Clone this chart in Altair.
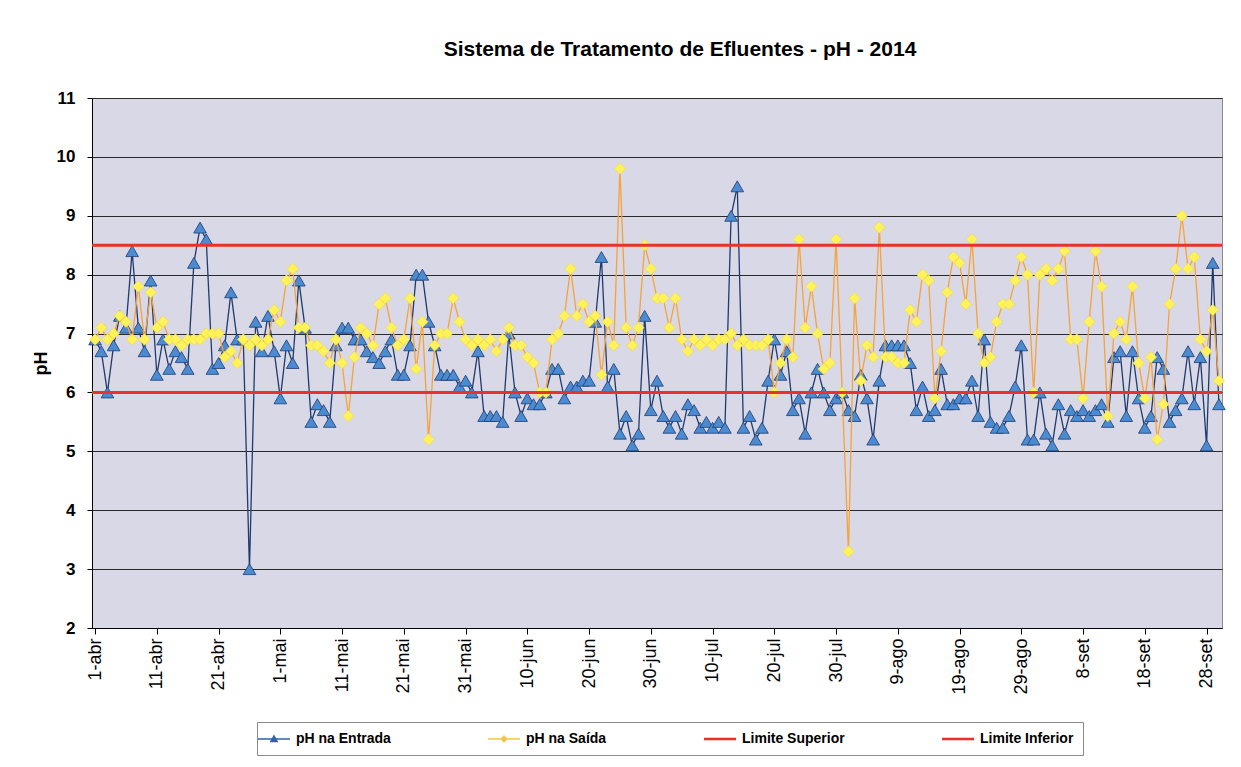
import altair as alt
import pandas as pd

# ---- data -------------------------------------------------------------
meses = ["abr", "mai", "jun", "jul", "ago", "set"]
dias_por_mes = [30, 31, 30, 31, 31, 30]
dias = [f"{d}-{m}" for m, n in zip(meses, dias_por_mes) for d in range(1, n + 1)]

entrada = [
    6.9, 6.7, 6.0, 6.8, 7.3, 7.1, 8.4, 7.1, 6.7, 7.9,
    6.3, 6.9, 6.4, 6.7, 6.6, 6.4, 8.2, 8.8, 8.6, 6.4,
    6.5, 6.8, 7.7, 6.9, 6.9, 3.0, 7.2, 6.7, 7.3, 6.7,
    5.9, 6.8, 6.5, 7.9, 7.1, 5.5, 5.8, 5.7, 5.5, 6.8,
    7.1, 7.1, 6.9, 6.9, 6.7, 6.6, 6.5, 6.7, 6.9, 6.3,
    6.3, 6.8, 8.0, 8.0, 7.2, 6.8, 6.3, 6.3, 6.3, 6.1,
    6.2, 6.0, 6.7, 5.6, 5.6, 5.6, 5.5, 7.0, 6.0, 5.6,
    5.9, 5.8, 5.8, 6.0, 6.4, 6.4, 5.9, 6.1, 6.1, 6.2,
    6.2, 7.2, 8.3, 6.1, 6.4, 5.3, 5.6, 5.1, 5.3, 7.3,
    5.7, 6.2, 5.6, 5.4, 5.6, 5.3, 5.8, 5.7, 5.4, 5.5,
    5.4, 5.5, 5.4, 9.0, 9.5, 5.4, 5.6, 5.2, 5.4, 6.2,
    6.9, 6.3, 6.7, 5.7, 5.9, 5.3, 6.0, 6.4, 6.0, 5.7,
    5.9, 6.0, 5.7, 5.6, 6.3, 5.9, 5.2, 6.2, 6.8, 6.8,
    6.8, 6.8, 6.5, 5.7, 6.1, 5.6, 5.7, 6.4, 5.8, 5.8,
    5.9, 5.9, 6.2, 5.6, 6.9, 5.5, 5.4, 5.4, 5.6, 6.1,
    6.8, 5.2, 5.2, 6.0, 5.3, 5.1, 5.8, 5.3, 5.7, 5.6,
    5.7, 5.6, 5.7, 5.8, 5.5, 6.6, 6.7, 5.6, 6.7, 5.9,
    5.4, 5.6, 6.6, 6.4, 5.5, 5.7, 5.9, 6.7, 5.8, 6.6,
    5.1, 8.2, 5.8,
]

saida = [
    6.9, 7.1, 6.9, 7.0, 7.3, 7.2, 6.9, 7.8, 6.9, 7.7,
    7.1, 7.2, 6.9, 6.9, 6.8, 6.9, 6.9, 6.9, 7.0, 7.0,
    7.0, 6.6, 6.7, 6.5, 6.9, 6.8, 6.9, 6.8, 6.9, 7.4,
    7.2, 7.9, 8.1, 7.1, 7.1, 6.8, 6.8, 6.7, 6.5, 6.9,
    6.5, 5.6, 6.6, 7.1, 7.0, 6.8, 7.5, 7.6, 7.1, 6.8,
    6.9, 7.6, 6.4, 7.2, 5.2, 6.8, 7.0, 7.0, 7.6, 7.2,
    6.9, 6.8, 6.9, 6.8, 6.9, 6.7, 6.9, 7.1, 6.8, 6.8,
    6.6, 6.5, 6.0, 6.0, 6.9, 7.0, 7.3, 8.1, 7.3, 7.5,
    7.2, 7.3, 6.3, 7.2, 6.8, 9.8, 7.1, 6.8, 7.1, 8.5,
    8.1, 7.6, 7.6, 7.1, 7.6, 6.9, 6.7, 6.9, 6.8, 6.9,
    6.8, 6.9, 6.9, 7.0, 6.8, 6.9, 6.8, 6.8, 6.8, 6.9,
    6.0, 6.5, 6.9, 6.6, 8.6, 7.1, 7.8, 7.0, 6.4, 6.5,
    8.6, 6.0, 3.3, 7.6, 6.2, 6.8, 6.6, 8.8, 6.6, 6.6,
    6.5, 6.5, 7.4, 7.2, 8.0, 7.9, 5.9, 6.7, 7.7, 8.3,
    8.2, 7.5, 8.6, 7.0, 6.5, 6.6, 7.2, 7.5, 7.5, 7.9,
    8.3, 8.0, 6.0, 8.0, 8.1, 7.9, 8.1, 8.4, 6.9, 6.9,
    5.9, 7.2, 8.4, 7.8, 5.6, 7.0, 7.2, 6.9, 7.8, 6.5,
    5.9, 6.6, 5.2, 5.8, 7.5, 8.1, 9.0, 8.1, 8.3, 6.9,
    6.7, 7.4, 6.2,
]

series_nomes = ["pH na Entrada", "pH na Saída", "Limite Superior", "Limite Inferior"]
limites_valores = [8.5, 6.0]
rotulos_x = dias[::10]
ticks_y = list(range(2, 12))

# ---- frames ------------------------------------------------------------
df_ent = pd.DataFrame({"dia": dias, "valor": entrada, "serie": series_nomes[0]})
df_sai = pd.DataFrame({"dia": dias, "valor": saida, "serie": series_nomes[1]})
df_lim = pd.DataFrame({"serie": series_nomes[2:], "valor": limites_valores})

FONT = "Liberation Sans"

x_enc = alt.X(
    "dia:O",
    scale=alt.Scale(type="point", domain=dias, padding=0.5),
    axis=alt.Axis(
        values=rotulos_x, labelAngle=-90, labelFontSize=18, labelFont=FONT,
        labelColor="black", tickSize=6, tickColor="black", domainColor="black",
        labelPadding=4, grid=False, title=None,
    ),
)
y_enc = alt.Y(
    "valor:Q",
    scale=alt.Scale(domain=[2, 11], nice=False, zero=False),
    axis=alt.Axis(
        values=ticks_y, format="d", grid=True, gridColor="#2a2a2a", gridWidth=1,
        tickSize=5, tickColor="black", domainColor="black",
        labelFontSize=17, labelFontWeight="bold", labelFont=FONT, labelColor="black",
        labelPadding=12, title="pH", titleFontSize=18, titleFontWeight="bold",
        titleFont=FONT, titleColor="black", titlePadding=6,
    ),
)

ent_line = alt.Chart(df_ent).mark_line(color="#1f3b6e", strokeWidth=1.3).encode(x=x_enc, y=y_enc)
ent_pts = alt.Chart(df_ent).mark_point(
    shape="triangle-up", filled=True, size=160, fill="#4b8bd1",
    stroke="#1f3b6e", strokeWidth=0.8, opacity=1,
).encode(x=x_enc, y=y_enc)

sai_line = alt.Chart(df_sai).mark_line(color="#f5a33c", strokeWidth=1.3).encode(x=x_enc, y=y_enc)
sai_pts = alt.Chart(df_sai).mark_point(
    shape="diamond", filled=True, size=130, fill="#fff25a",
    stroke="#f0d83a", strokeWidth=0.6, opacity=1,
).encode(x=x_enc, y=y_enc)

lim = alt.Chart(df_lim).mark_rule(color="#e8322b", strokeWidth=3).encode(y="valor:Q")

path_ent = "M-2,-0.09H2V0.09H-2Z M0,-0.55L0.55,0.4H-0.55Z"
path_sai = "M-2,-0.09H2V0.09H-2Z M0,-0.5L0.45,0L0,0.5L-0.45,0Z"
path_lim = "M-2,-0.16H2V0.16H-2Z"

leg = alt.Legend(
    orient="none", legendX=165, legendY=624, direction="horizontal", columns=4,
    columnPadding=97, symbolSize=256, symbolStrokeWidth=0, labelFont=FONT,
    labelFontSize=14, labelFontWeight="bold", labelColor="black", labelOffset=14,
    fillColor="white", strokeColor="#8a8a8a", padding=9, title=None,
)
legend_layer = alt.Chart(df_ent).transform_filter("false").mark_point(
    filled=True, size=256, opacity=1,
).encode(
    x=x_enc, y=y_enc,
    color=alt.Color("serie:N", scale=alt.Scale(domain=series_nomes,
                    range=["#2f62a8", "#f4c646", "#e8322b", "#e8322b"]), legend=leg),
    shape=alt.Shape("serie:N", scale=alt.Scale(domain=series_nomes,
                    range=[path_ent, path_sai, path_lim, path_lim]), legend=leg),
)

chart = alt.layer(
    ent_line, ent_pts, sai_line, sai_pts, lim, legend_layer
).properties(
    width=1130, height=530,
    padding={"left": 84, "top": 90, "right": 10, "bottom": 131},
    autosize=alt.AutoSizeParams(type="none"),
    title=alt.TitleParams(
        "Sistema de Tratamento de Efluentes - pH - 2014", font=FONT, fontSize=21,
        fontWeight="bold", color="black", anchor="middle", dx=23, offset=29,
    ),
    background="white",
).configure_view(fill="#d8d8e6", stroke="#8a8a8a", strokeWidth=1)

chart.save("out.html", embed_options={"renderer": "svg", "actions": False})
